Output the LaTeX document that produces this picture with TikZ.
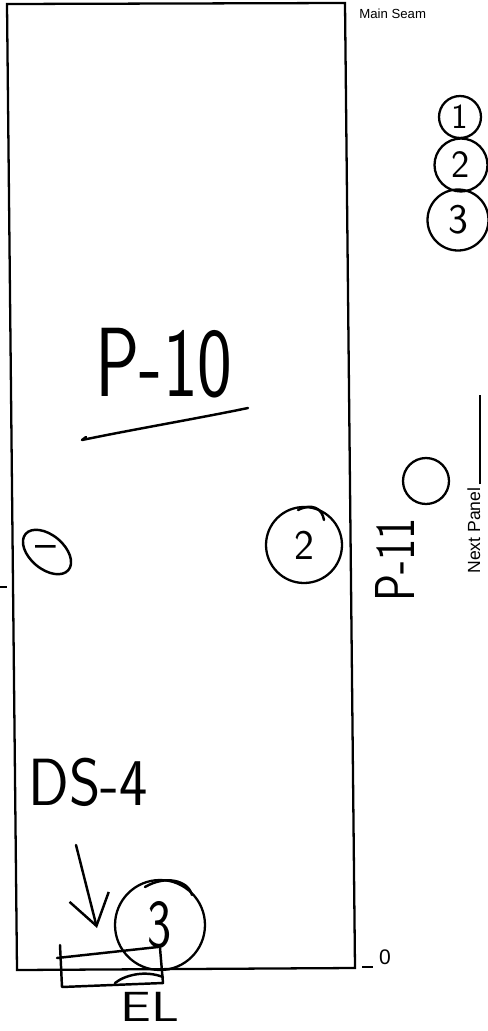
\documentclass[tikz,border=0pt]{standalone}
\usepackage{fontspec}
\setmainfont{Liberation Sans}
\usepackage{tikz}
\usetikzlibrary{arrows.meta,calc}

\begin{document}
\begin{tikzpicture}[x=0.02cm,y=-0.02cm,
  >={Straight Barb[length=17pt,width=23pt]},
  frame/.style={line width=1.3pt,line join=miter},
  pen/.style={line width=1.4pt,line cap=round,line join=round},
  hand/.style={font=\sffamily\fontsize{#1}{#1}\selectfont,inner sep=0pt},
  printed/.style={font=\fontsize{#1}{#1}\selectfont,inner sep=0pt},
  numring/.style={circle,draw,line width=1.3pt,inner sep=0pt,minimum size=#1}]
  \useasboundingbox (0,0) rectangle (487,1031);
  \coordinate (NW) at (7,4);
  \coordinate (NE) at (345,3);
  \coordinate (SE) at (355,968);
  \coordinate (SW) at (17,970);
  \draw[frame] (NW)--(NE)--(SE)--(SW)--cycle;
  \node[printed=7.5,anchor=west] (seam) at (359,14) {Main Seam};
  \draw[line width=0.8pt] (362,967)--(373,967);
  \node[printed=12] (zero) at (385,957) {0};
  \draw[line width=0.8pt] (0,587)--(7,587);
  \node[printed=10,rotate=90,anchor=base west] (next) at (480,574) {Next Panel};
  \coordinate (nexttop) at (480,395);
  \draw[line width=0.6pt] (next.base east)++(0,-3)--(nexttop);
  \node[numring=0.84cm,hand=20] (r1) at (460,117) {1};
  \node[numring=1.06cm,hand=22] (r2) at (461,165) {2};
  \node[numring=1.22cm,hand=24] (r3) at (458,220) {3};
  \node[numring=0.92cm] (spot) at (426,481) {};
  \node[hand=32,rotate=90,xscale=0.8,transform shape] (pnext) at (395,560) {P-11};
  \node[hand=56,xscale=0.75,transform shape] (pcur) at (164,363) {P-10};
  \draw[pen] (86,437)--(82,440) .. controls (130,430) and (200,418) .. (248,408);
  \draw[pen,rotate around={-40:(47,552)}] (47,552) ellipse (28 and 17);
  \node[hand=25] (dash) at (46,552) {–};
  \node[numring=1.52cm,hand=24] (two) at (304,545) {2};
  \draw[pen] (298,510) .. controls (312,503) and (322,508) .. (324,520);
  \node[hand=38,xscale=0.9,transform shape] (ds) at (88,782) {DS-4};
  \coordinate (tail) at (76,845);
  \coordinate (tip) at (97,928);
  \draw[pen,->] (tail)--(tip);
  \node[numring=1.8cm,hand=39] (three) at (160,925) {\scalebox{0.75}[1]{3}};
  \draw[pen] (145,887) .. controls (165,875) and (188,880) .. (192,895);
  \draw[pen] (57,958)--(158,947);
  \draw[pen] (60,945)--(62,987)--(163,983)--(160,948);
  \draw[pen] (115,983) .. controls (125,975) and (145,970) .. (163,977);
  \node[hand=24,xscale=1.3,transform shape] (el) at (150,1007) {EL};
\end{tikzpicture}
\end{document}
